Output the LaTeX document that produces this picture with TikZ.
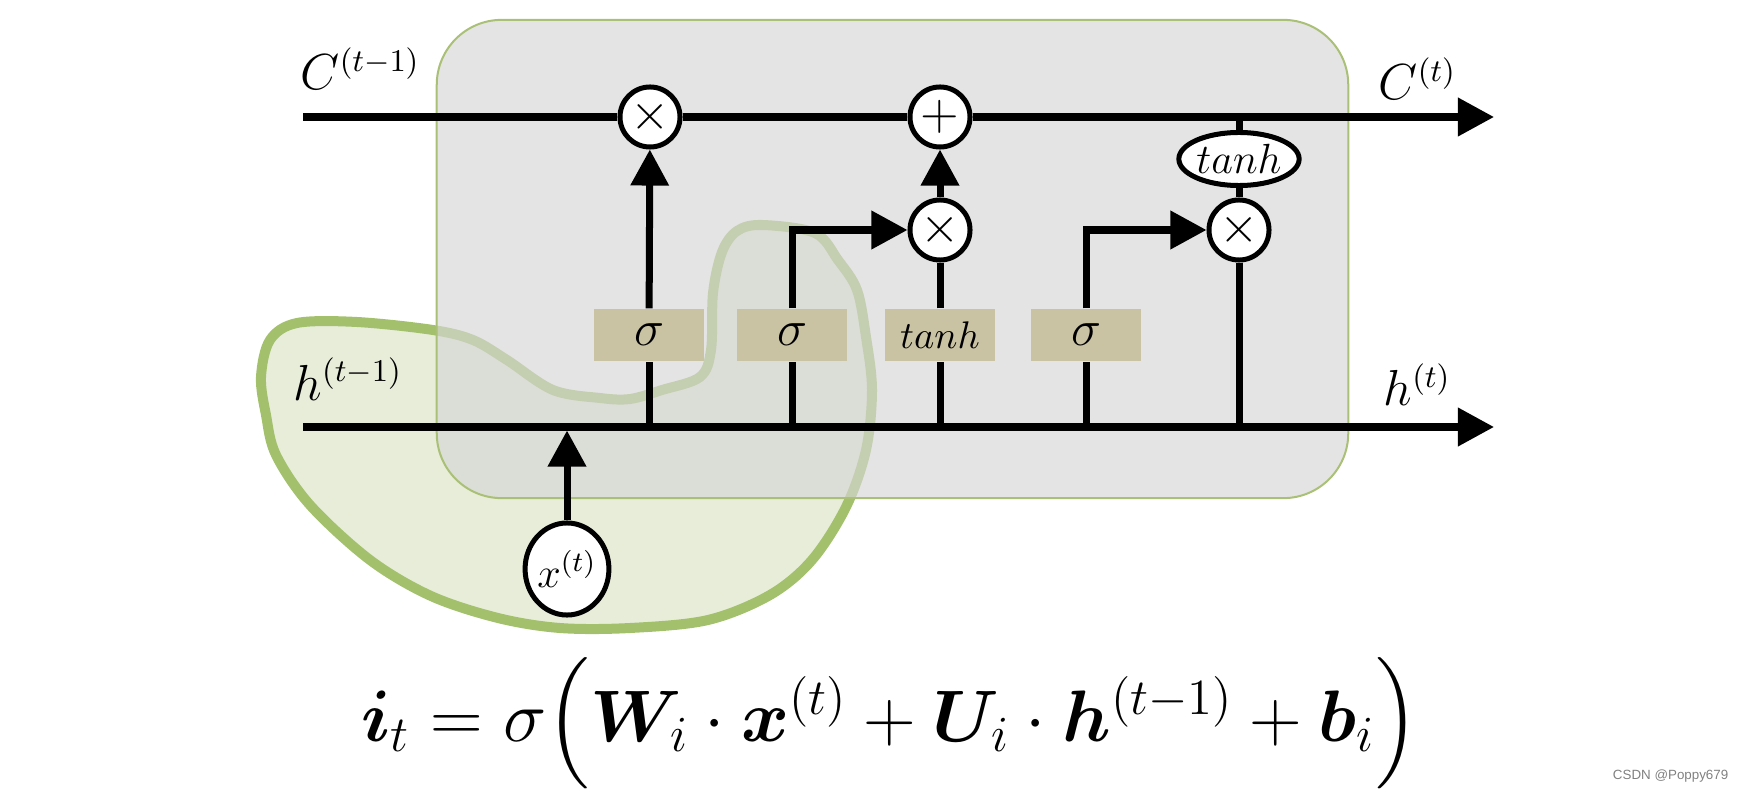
\documentclass[tikz,border=0pt]{standalone}
\usepackage{amsmath,bm}
\usepackage{fontspec}
\newfontfamily\wmfamily{Liberation Sans}
\usetikzlibrary{arrows.meta,positioning,shapes.geometric}
\definecolor{cellgray}{RGB}{214,214,214}
\definecolor{cellline}{RGB}{170,192,118}
\definecolor{gatetan}{RGB}{201,195,164}
\definecolor{blobline}{RGB}{163,193,109}
\definecolor{blobfill}{RGB}{231,237,217}
\newcommand\lblfont{\fontsize{13.5}{16}\selectfont}
\newcommand\eqfont{\fontsize{20.5}{25}\selectfont}

\begin{document}
\begin{tikzpicture}[x=0.01cm, y=-0.01cm,
    flow/.style={line width=0.07cm},
    arr/.style={flow, -{Triangle[length=0.36cm,width=0.37cm]}},
    op/.style={circle, draw, fill=white, line width=0.05cm, minimum size=0.6cm,
               inner sep=0pt, font=\lblfont},
    gate/.style={fill=gatetan, minimum width=1.09cm, minimum height=0.52cm,
                 inner sep=0pt, font=\lblfont},
    act/.style={ellipse, draw, fill=white, line width=0.05cm, minimum width=1.1cm,
                minimum height=0.53cm, inner sep=0pt, font=\fontsize{11.5}{13}\selectfont},
    cell/.style={rounded corners=0.65cm, draw=cellline, line width=0.02cm,
                 fill=cellgray, fill opacity=0.65, minimum width=9.11cm, minimum height=4.78cm},
    blob/.style={draw=blobline, fill=blobfill, line width=0.1cm, line join=round},
    lbl/.style={font=\lblfont, inner sep=0pt}
  ]
  \useasboundingbox (0,0) rectangle (1742,794);

  \draw[blob] plot[smooth cycle, tension=0.55] coordinates {
    (297,323) (357,322) (433,330) (473,340) (507,360) (553,390) (600,398)
    (630,399) (662,390) (700,377) (711,350) (713,293) (722,252) (737,231)
    (762,225) (815,233) (838,260) (857,290) (866,337) (872,390) (866,450)
    (846,507) (812,560) (770,595) (708,620) (630,628) (560,628) (498,618)
    (431,596) (370,560) (310,505) (276,455) (266,415) (261,377) (270,340)};

  \node[cell] (cell) at (892.5,259) {};

  \node[op] (mulf) at (650,117) {$\times$};
  \node[op] (add) at (940,117) {$+$};
  \node[op] (muli) at (940,230) {$\times$};
  \node[act] (tanhc) at (1239,159) {$tanh$};
  \node[op] (mulo) at (1239,230) {$\times$};

  \node[gate] (sigf) at (649,335) {$\sigma$};
  \node[gate] (sigi) at (792,335) {$\sigma$};
  \node[gate, font=\fontsize{11}{13}\selectfont] (tanhg) at (940,335) {$tanh$};
  \node[gate] (sigo) at (1086,335) {$\sigma$};

  \node[ellipse, draw, fill=white, line width=0.05cm, minimum width=0.82cm,
        minimum height=0.92cm, inner sep=0pt, font=\fontsize{11.5}{14}\selectfont]
        (xin) at (567,569) {$x^{(t)}$};

  \coordinate (cin) at (303,117);
  \coordinate (cout) at (1494,117);
  \coordinate (hin) at (303,427);
  \coordinate (hout) at (1494,427);

  \draw[flow] (cin) -- (mulf);
  \draw[flow] (mulf) -- (add);
  \draw[arr] (add) -- (cout);
  \draw[arr] (hin) -- (hout);

  \draw[flow] (sigf.south |- hin) -- (sigf);
  \draw[arr] (sigf) -- (mulf);
  \draw[flow] (sigi.south |- hin) -- (sigi);
  \draw[arr] (sigi.north) |- (muli);
  \draw[flow] (tanhg.south |- hin) -- (tanhg);
  \draw[flow] (tanhg) -- (muli);
  \draw[arr] (muli) -- (add);
  \draw[flow] (sigo.south |- hin) -- (sigo);
  \draw[arr] (sigo.north) |- (mulo);
  \draw[flow] (tanhc.north |- cin) -- (tanhc);
  \draw[flow] (tanhc) -- (mulo);
  \draw[flow] (mulo) -- (mulo.south |- hin);
  \draw[arr, shorten >=0.035cm] (xin) -- (xin.north |- hin);

  \node[lbl, anchor=base west] (cprev) at (300,90) {$C^{(t-1)}$};
  \node[lbl, anchor=base west] (cnext) at (1378,100) {$C^{(t)}$};
  \node[lbl, anchor=base west] (hprev) at (293,400) {$h^{(t-1)}$};
  \node[lbl, anchor=base west] (hnext) at (1383,406) {$h^{(t)}$};

  \node[inner sep=0pt, anchor=base, font=\eqfont] (eq) at (890,741)
    {$\bm{i}_t = \sigma\Bigl(\bm{W}_i\cdot\bm{x}^{(t)}+\bm{U}_i\cdot\bm{h}^{(t-1)}+\bm{b}_i\Bigr)$};
  \node[inner sep=0pt, anchor=base east, text=gray, font=\wmfamily\fontsize{3.8}{4.5}\selectfont]
    (mark) at (1729,779) {CSDN @Poppy679};
\end{tikzpicture}
\end{document}
